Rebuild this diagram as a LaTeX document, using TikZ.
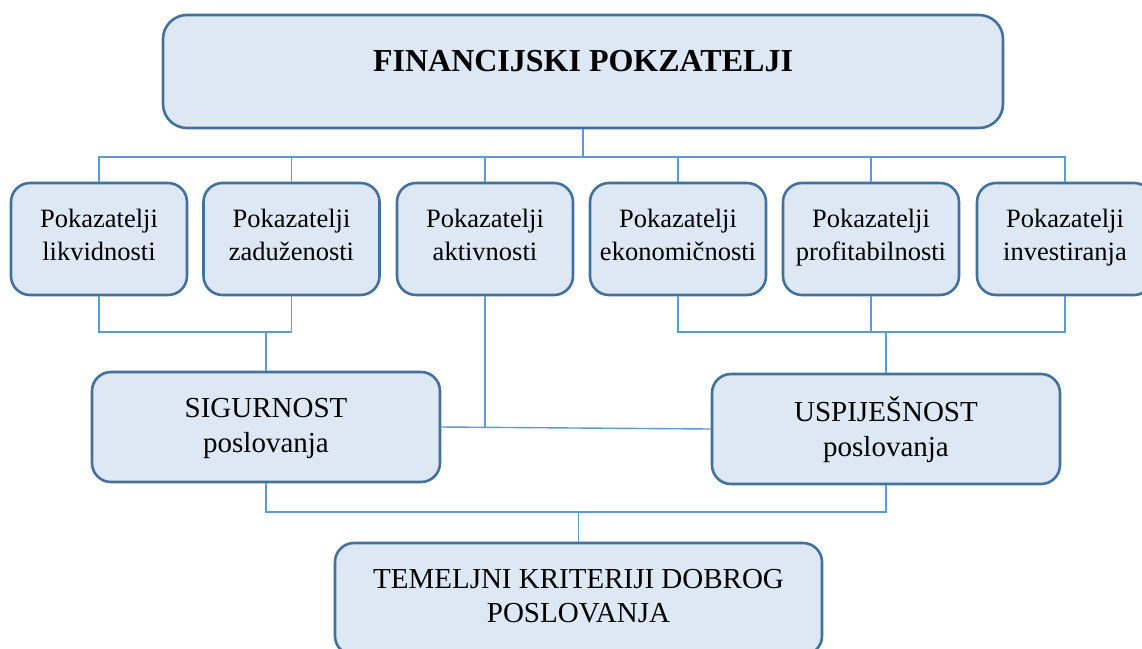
\documentclass[tikz,border=0pt]{standalone}
\usepackage{fontspec}
\setmainfont{Liberation Serif}
\definecolor{boxfill}{RGB}{221,232,244}
\definecolor{boxline}{RGB}{65,113,156}
\definecolor{conn}{RGB}{91,155,213}
\tikzset{
  box/.style={draw=boxline, fill=boxfill, line width=2.6pt, rounded corners=19pt, align=center, inner sep=0pt},
  rowbox/.style={box, minimum width=176pt, minimum height=112pt, font=\fontsize{26.5}{33}\selectfont, text depth=8pt},
  midbox/.style={box, minimum width=348pt, minimum height=110pt, font=\fontsize{29}{35}\selectfont, text depth=4pt},
  conline/.style={draw=conn, line width=1.4pt}
}
\begin{document}
\begin{tikzpicture}[x=1pt,y=-1pt]
\useasboundingbox (0,0) rectangle (1142,648);
\clip (0,0) rectangle (1142,648);
\fill[white] (0,0) rectangle (1142,648);
% nodes
\node[box, minimum width=840pt, minimum height=113pt, rounded corners=24pt, font=\fontsize{32}{38}\selectfont\bfseries, text depth=22pt] (top) at (583,71.5) {FINANCIJSKI POKZATELJI};
\node[rowbox] (r1) at (99,239) {Pokazatelji\\likvidnosti};
\node[rowbox] (r2) at (291.5,239) {Pokazatelji\\zaduženosti};
\node[rowbox] (r3) at (485,239) {Pokazatelji\\aktivnosti};
\node[rowbox] (r4) at (678,239) {Pokazatelji\\ekonomičnosti};
\node[rowbox] (r5) at (871,239) {Pokazatelji\\profitabilnosti};
\node[rowbox] (r6) at (1065,239) {Pokazatelji\\investiranja};
\node[midbox] (sig) at (266,427) {SIGURNOST\\poslovanja};
\node[midbox] (usp) at (886,429) {USPIJEŠNOST\\poslovanja};
\node[box, minimum width=487pt, minimum height=112pt, font=\fontsize{29}{34}\selectfont, text depth=6pt] (bot) at (578.5,599) {TEMELJNI KRITERIJI DOBROG\\POSLOVANJA};
% junction coordinates
\coordinate (b1) at (583,157);
\coordinate (b2) at (266,332);
\coordinate (b3) at (886,332);
\coordinate (b4) at (485,427);
\coordinate (b5) at (578.5,512);
% connectors
\draw[conline] (top.south) -- (b1);
\foreach \n in {r1,r2,r3,r4,r5,r6} \draw[conline] (\n.north) |- (b1);
\draw[conline] (r1.south) |- (b2);
\draw[conline] (r2.south) |- (b2);
\draw[conline] (sig.north) -- (b2);
\draw[conline] (r4.south) |- (b3);
\draw[conline] (r5.south) |- (b3);
\draw[conline] (r6.south) |- (b3);
\draw[conline] (usp.north) -- (b3);
\draw[conline] (r3.south) -- (b4);
\draw[conline] (sig.east) -- (usp.west);
\draw[conline] (sig.south) |- (b5);
\draw[conline] (usp.south) |- (b5);
\draw[conline] (bot.north) -- (b5);
\end{tikzpicture}
\end{document}
